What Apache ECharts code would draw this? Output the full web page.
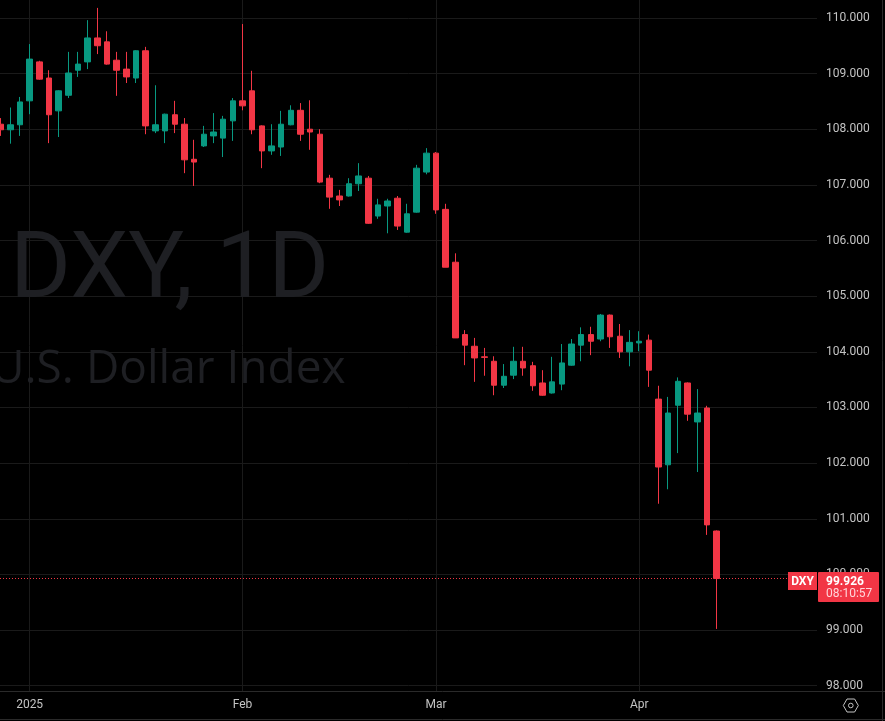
<!DOCTYPE html>
<html><head><meta charset="utf-8">
<script src="https://cdn.jsdelivr.net/npm/echarts@6/dist/echarts.min.js"></script>
<style>html,body{margin:0;padding:0;background:#000;overflow:hidden}#c{width:885px;height:721px}</style>
</head><body><div id="c"></div>
<script>
// ---- data ----
const dates = ['2024-12-27','2024-12-30','2024-12-31',
 '2025-01-02','2025-01-03','2025-01-06','2025-01-07','2025-01-08','2025-01-09','2025-01-10',
 '2025-01-13','2025-01-14','2025-01-15','2025-01-16','2025-01-17','2025-01-20','2025-01-21',
 '2025-01-22','2025-01-23','2025-01-24','2025-01-27','2025-01-28','2025-01-29','2025-01-30','2025-01-31',
 '2025-02-03','2025-02-04','2025-02-05','2025-02-06','2025-02-07','2025-02-10','2025-02-11','2025-02-12',
 '2025-02-13','2025-02-14','2025-02-17','2025-02-18','2025-02-19','2025-02-20','2025-02-21','2025-02-24',
 '2025-02-25','2025-02-26','2025-02-27','2025-02-28',
 '2025-03-03','2025-03-04','2025-03-05','2025-03-06','2025-03-07','2025-03-10','2025-03-11','2025-03-12',
 '2025-03-13','2025-03-14','2025-03-17','2025-03-18','2025-03-19','2025-03-20','2025-03-21','2025-03-24',
 '2025-03-25','2025-03-26','2025-03-27','2025-03-28','2025-03-31',
 '2025-04-01','2025-04-02','2025-04-03','2025-04-04','2025-04-07','2025-04-08','2025-04-09','2025-04-10','2025-04-11'];
const opens = [108.09,107.99,108.08,
 108.51,109.21,108.92,108.33,108.61,109.06,109.21,
 109.64,109.57,109.24,109.08,108.92,109.41,107.97,
 107.97,108.26,108.09,107.46,107.70,107.88,107.84,108.15,
 108.51,108.69,108.06,107.61,107.68,108.08,108.34,108.00,
 107.91,107.12,106.80,106.80,107.02,107.12,106.44,106.62,
 106.76,106.15,106.51,107.23,
 107.57,106.56,105.61,104.31,104.10,103.91,103.83,103.40,
 103.58,103.83,103.75,103.44,103.26,103.42,103.76,104.12,
 104.31,104.23,104.66,104.28,104.00,
 104.16,104.21,103.15,101.97,103.04,103.44,102.74,102.99,100.78];
const closes = [107.99,108.08,108.49,
 109.26,108.90,108.26,108.69,109.01,109.17,109.64,
 109.50,109.17,109.06,108.94,109.41,108.06,108.08,
 108.27,108.09,107.45,107.41,107.91,107.95,108.18,108.51,
 108.42,107.99,107.61,107.70,108.09,108.34,107.91,107.95,
 107.05,106.78,106.73,107.02,107.16,106.31,106.64,106.71,
 106.26,106.48,107.30,107.57,
 106.55,105.52,104.25,104.12,103.89,103.90,103.40,103.56,
 103.83,103.71,103.39,103.22,103.46,103.80,104.14,104.31,
 104.19,104.66,104.27,104.00,104.17,
 104.19,103.67,101.93,102.90,103.47,102.88,102.90,100.89,99.926];
const lows = [107.88,107.74,107.88,
 108.27,108.89,107.75,107.86,108.56,108.94,109.08,
 109.35,109.16,108.60,108.83,108.83,107.91,107.93,
 107.75,107.93,107.21,106.98,107.68,107.75,107.50,107.79,
 108.34,107.91,107.30,107.54,107.52,108.07,107.79,107.63,
 107.03,106.57,106.62,106.79,106.89,106.30,106.39,106.13,
 106.19,106.14,106.50,107.19,
 106.48,105.52,104.25,103.76,103.46,103.57,103.22,103.35,
 103.51,103.57,103.30,103.21,103.25,103.31,103.75,103.83,
 103.94,104.19,104.07,103.89,103.74,
 104.01,103.37,101.27,101.53,102.18,102.76,101.84,100.71,99.02];
const highs = [108.20,108.39,108.58,
 109.53,109.23,109.06,108.70,109.39,109.39,109.96,
 110.18,109.76,109.39,109.39,109.42,109.48,108.79,
 108.28,108.51,108.20,107.81,108.06,108.29,108.24,108.56,
 109.89,109.05,108.07,108.09,108.33,108.43,108.47,108.52,
 108.00,107.18,106.91,107.12,107.39,107.16,106.75,106.75,
 106.80,106.66,107.36,107.66,
 107.59,106.66,105.77,104.39,104.25,104.07,103.92,103.78,
 104.09,104.09,103.82,103.67,103.91,104.14,104.23,104.44,
 104.45,104.68,104.67,104.50,104.39,
 104.37,104.31,103.39,103.19,103.54,103.45,103.33,103.03,100.79];
const monthTickIdx = [3, 25, 45, 66];
const monthTickLabels = ['2025', 'Feb', 'Mar', 'Apr'];
const priceTicks = [98,99,100,101,102,103,104,105,106,107,108,109,110];
const symbolName = 'DXY';
const intervalName = '1D';
const longName = 'U.S. Dollar Index';
const countdown = '08:10:57';

// ---- layout constants ----
const PLOT_W = 817, PLOT_H = 691, BAR_PX = 9.676;
const X_MIN = -0.062, X_MAX = X_MIN + PLOT_W / BAR_PX;
const Y_MIN = 97.905, Y_MAX = 110.322;
const UP = '#089981', DOWN = '#F23645';
const GRID_C = '#1a1a1a', TEXT_C = '#c3c3c3', FRAME_C = '#2a2a2a';
const FONT = 'Roboto';

const candles = dates.map((d, i) => [i, opens[i], closes[i], lows[i], highs[i]]);
const lastClose = closes[closes.length - 1];

const chart = echarts.init(document.getElementById('c'), null, {renderer: 'canvas'});
const option = {
  backgroundColor: '#000000',
  animation: false,
  grid: {left: 0, top: 0, width: PLOT_W, height: PLOT_H, containLabel: false},
  xAxis: {
    type: 'value', min: X_MIN, max: X_MAX,
    axisLine: {show: false},
    axisTick: {show: false, customValues: monthTickIdx},
    splitLine: {show: true, lineStyle: {color: GRID_C, width: 1}},
    axisLabel: {
      customValues: monthTickIdx, color: TEXT_C, fontFamily: FONT, fontSize: 12, margin: 8,
      formatter: v => monthTickLabels[monthTickIdx.indexOf(Math.round(v))] || ''
    }
  },
  yAxis: {
    type: 'value', position: 'right', min: Y_MIN, max: Y_MAX, scale: true,
    axisLine: {show: false},
    axisTick: {show: false, customValues: priceTicks},
    splitLine: {show: true, lineStyle: {color: GRID_C, width: 1}},
    axisLabel: {
      customValues: priceTicks, color: TEXT_C, fontFamily: FONT, fontSize: 12, margin: 9,
      formatter: v => Number(v).toFixed(3)
    }
  },
  series: [{
    type: 'candlestick',
    data: candles,
    encode: {x: 0, y: [1, 2, 3, 4]},
    barWidth: 6,
    clip: true,
    itemStyle: {color: UP, color0: DOWN, borderColor: UP, borderColor0: DOWN, borderWidth: 1},
    markLine: {
      silent: true, symbol: ['none', 'none'], animation: false,
      label: {show: false},
      lineStyle: {color: DOWN, type: [1, 2], width: 1},
      data: [[{coord: [X_MIN, lastClose]}, {coord: [X_MIN + 787 / BAR_PX, lastClose]}]]
    }
  }]
};
chart.setOption(option);

const yTag = chart.convertToPixel({yAxisIndex: 0}, lastClose);
const tagTop = Math.round(yTag - 6.8);
const hx = 850.8, hy = 705.5;
chart.setOption({
  graphic: [
    {type: 'text', z: 0, silent: true, x: 10, y: 274,
     style: {text: symbolName + ', ' + intervalName, fill: '#1e1f23', font: '400 93px ' + FONT, verticalAlign: 'middle'}},
    {type: 'text', z: 0, silent: true, x: -9, y: 370,
     style: {text: longName, fill: '#1e1f23', font: '400 46px "Open Sans"', verticalAlign: 'middle'}},
    {type: 'line', z: 50, silent: true, shape: {x1: 0, y1: 691.5, x2: 885, y2: 691.5}, style: {stroke: FRAME_C, lineWidth: 1}},
    {type: 'line', z: 50, silent: true, shape: {x1: 0, y1: 719.5, x2: 885, y2: 719.5}, style: {stroke: FRAME_C, lineWidth: 1}},
    {type: 'line', z: 50, silent: true, shape: {x1: 882.5, y1: 0, x2: 882.5, y2: 721}, style: {stroke: FRAME_C, lineWidth: 1}},
    {type: 'rect', z: 100, silent: true, shape: {x: 788, y: tagTop, width: 29, height: 18}, style: {fill: DOWN}},
    {type: 'text', z: 101, silent: true, x: 802.5, y: tagTop + 9.5,
     style: {text: symbolName, fill: '#ffffff', font: 'bold 12px ' + FONT, align: 'center', verticalAlign: 'middle'}},
    {type: 'rect', z: 100, silent: true, shape: {x: 818, y: tagTop, width: 61, height: 30, r: 1}, style: {fill: DOWN}},
    {type: 'text', z: 101, silent: true, x: 826, y: tagTop + 9.5,
     style: {text: lastClose.toFixed(3), fill: '#ffffff', font: 'bold 12px ' + FONT, align: 'left', verticalAlign: 'middle'}},
    {type: 'text', z: 101, silent: true, x: 826, y: tagTop + 22,
     style: {text: countdown, fill: '#ffd5d9', font: '12px ' + FONT, align: 'left', verticalAlign: 'middle'}},
    {type: 'polygon', z: 50, silent: true,
     shape: {points: [[hx - 7.5, hy], [hx - 3.8, hy - 6.5], [hx + 3.8, hy - 6.5], [hx + 7.5, hy], [hx + 3.8, hy + 6.5], [hx - 3.8, hy + 6.5]]},
     style: {fill: 'none', stroke: TEXT_C, lineWidth: 1}},
    {type: 'circle', z: 50, silent: true, shape: {cx: hx, cy: hy, r: 2.3}, style: {fill: 'none', stroke: TEXT_C, lineWidth: 1}}
  ]
});
</script>
</body></html>
